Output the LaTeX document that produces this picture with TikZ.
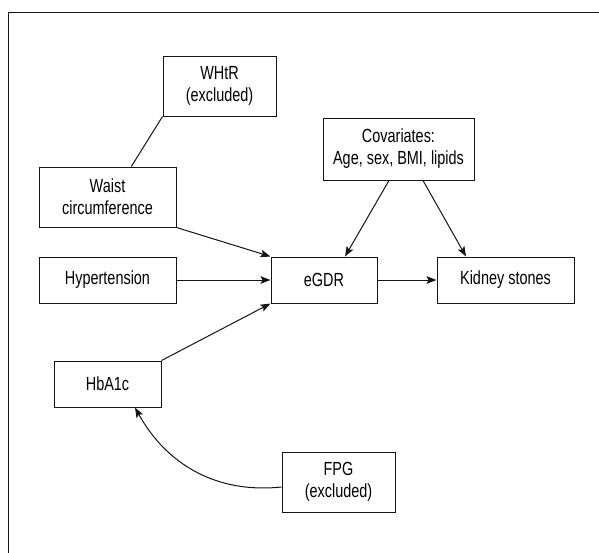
\documentclass[tikz,border=0pt]{standalone}
\usepackage{fontspec}
\setmainfont{Liberation Sans}[FakeStretch=0.76]
\usetikzlibrary{positioning, arrows.meta, calc}
\colorlet{drawColor}{black!92}
\tikzstyle{var}=[draw=drawColor, line width=1pt, align=center, text=black,
  font=\fontsize{19}{22}\selectfont, inner sep=2pt]
\tikzstyle{arrow}=[-{Stealth[length=10pt,width=7.5pt,inset=2pt]}, line width=1pt, draw=drawColor]
\tikzstyle{link}=[line width=1pt, draw=drawColor]

\begin{document}
\begin{tikzpicture}[x=1pt, y=-1pt]
      \clip (0,0) rectangle (599,552);
      \draw [link] (8,12) rectangle (620,570);
      \node (whtr) [var, minimum width=113, minimum height=60] at (219.5,86) {WHtR\\(excluded)};
      \node (waist) [var, minimum width=137, minimum height=60] at (107.5,197) {Waist\\circumference};
      \node (hyper) [var, minimum width=137, minimum height=46] at (107.5,280) {Hypertension};
      \node (egdr) [var, minimum width=106, minimum height=46] at (324,280) {eGDR};
      \node (kidney) [var, minimum width=137, minimum height=46] at (505.5,280) {Kidney stones};
      \node (cov) [var, minimum width=151, minimum height=62] at (398.5,149) {Covariates:\\Age, sex, BMI, lipids};
      \node (hba1c) [var, minimum width=107, minimum height=46] at (107.5,384) {HbA1c};
      \node (fpg) [var, minimum width=113, minimum height=60] at (338.5,482) {FPG\\(excluded)};
      \draw [link] (whtr.south west) -- (waist.52);
      \draw [arrow] (waist.south east) -- (egdr.north west);
      \draw [arrow] (hyper) -- (egdr);
      \draw [arrow] (hba1c.north east) -- (egdr.south west);
      \draw [arrow] ([xshift=-9.5pt]cov.south) -- ([xshift=21pt]egdr.north);
      \draw [arrow] ([xshift=24.5pt]cov.south) -- ([xshift=-39.5pt]kidney.north);
      \draw [arrow] (egdr) -- (kidney);
      \draw [arrow] ([yshift=-5pt]fpg.west) to[out=186, in=-61] ([xshift=27.5pt]hba1c.south);
    \end{tikzpicture}
\end{document}
